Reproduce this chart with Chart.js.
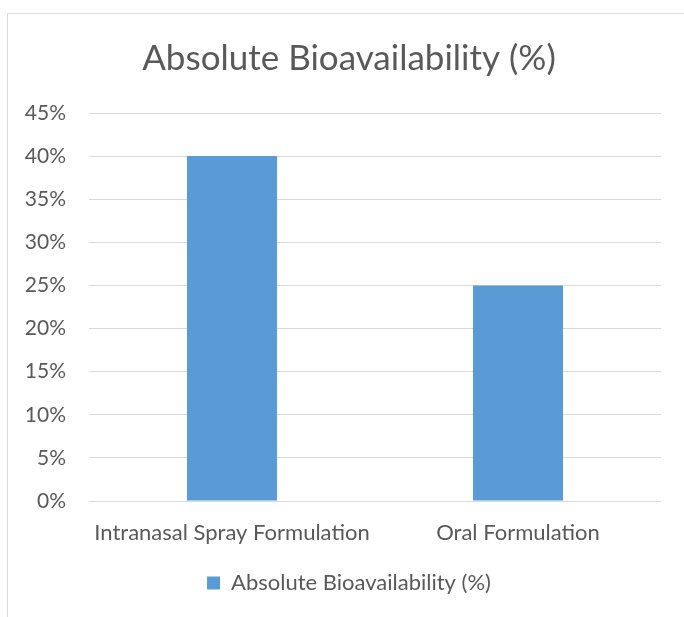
<!DOCTYPE html>
<html>
<head>
<meta charset="utf-8">
<script src="https://cdn.jsdelivr.net/npm/chart.js@4/dist/chart.umd.min.js"></script>
<style>
  html, body { margin: 0; padding: 0; background: #fff; overflow: hidden; }
  #frame { position: absolute; left: 7px; top: 13px; width: 720px; height: 700px; border: 1px solid #d9d9d9; box-sizing: border-box; }
  #wrap { position: absolute; left: 0; top: 0; width: 714px; height: 617px; }
</style>
</head>
<body>
<div id="frame"></div>
<div id="wrap"><canvas id="chart"></canvas></div>
<script>
// Chart data
const categories = ["Intranasal Spray Formulation", "Oral Formulation"];
const seriesName = "Absolute Bioavailability (%)";
const bioavailability = [40, 25];
const yTicks = [0, 5, 10, 15, 20, 25, 30, 35, 40, 45];

const textColor = "#595959";
const fontFamily = "Lato, 'Open Sans', sans-serif";

const ctx = document.getElementById("chart").getContext("2d");

new Chart(ctx, {
  type: "bar",
  data: {
    labels: categories,
    datasets: [
      {
        label: seriesName,
        data: bioavailability,
        backgroundColor: "#5b9bd5",
        categoryPercentage: 1,
        barPercentage: 0.315,
      },
    ],
  },
  options: {
    responsive: true,
    maintainAspectRatio: false,
    animation: false,
    layout: { padding: { left: 7, right: 23, top: 13, bottom: 13 } },
    plugins: {
      title: {
        display: true,
        text: seriesName,
        color: textColor,
        font: { family: fontFamily, size: 35, weight: "normal" },
        padding: { top: 25, bottom: 33 },
      },
      legend: {
        position: "bottom",
        labels: {
          color: textColor,
          font: { family: fontFamily, size: 22 },
          boxWidth: 13,
          boxHeight: 13,
          padding: 10,
        },
      },
      tooltip: { enabled: false },
    },
    scales: {
      x: {
        grid: { display: false },
        border: { display: false },
        ticks: {
          color: textColor,
          font: { family: fontFamily, size: 22 },
          padding: 11,
          maxRotation: 0,
        },
        afterFit: (scale) => { scale.height = 61; },
      },
      y: {
        min: 0,
        max: 45,
        grid: { color: "#d9d9d9", drawTicks: false },
        border: { display: false },
        afterBuildTicks: (scale) => { scale.ticks = yTicks.map(v => ({ value: v })); },
        ticks: {
          color: textColor,
          font: { family: fontFamily, size: 21 },
          padding: 23,
          callback: (v) => v + "%",
        },
        afterFit: (scale) => { scale.width = 82; },
      },
      // empty spacer on the right so the title and legend sit where the original has them
      spacer: {
        position: "right",
        min: 0,
        max: 45,
        grid: { display: false },
        border: { display: false },
        ticks: { display: false },
        afterFit: (scale) => { scale.width = 30; },
      },
    },
  },
});
</script>
</body>
</html>
